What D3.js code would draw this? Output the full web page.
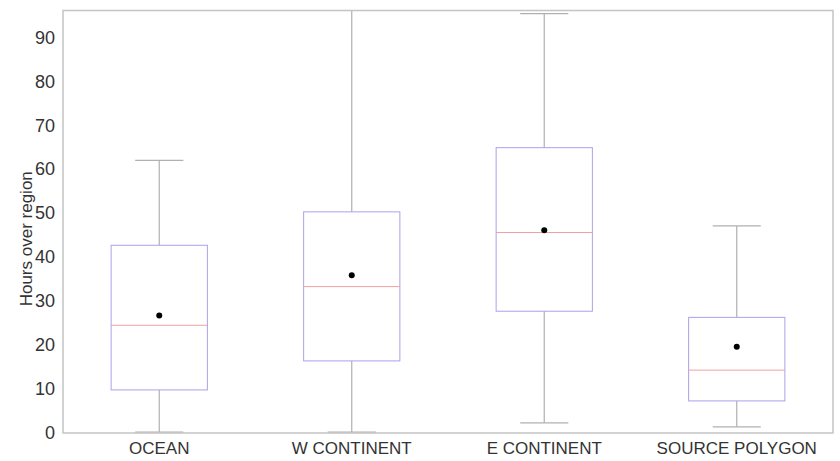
<!DOCTYPE html>
<html>
<head>
<meta charset="utf-8">
<script src="https://cdn.jsdelivr.net/npm/d3@7"></script>
<style>
  body { margin: 0; background: #fff; }
  text { font-family: "Liberation Sans", Arial, sans-serif; fill: #333; }
</style>
</head>
<body>
<div id="chart"></div>
<script>
// Box plot summary per region (hours)
const categories = ['OCEAN', 'W CONTINENT', 'E CONTINENT', 'SOURCE POLYGON'];
const whiskerLow = [0.2, 0.2, 2.3, 1.4];
const q1 = [9.8, 16.4, 27.7, 7.3];
const medians = [24.5, 33.3, 45.6, 14.3];
const q3 = [42.7, 50.3, 64.9, 26.3];
const whiskerHigh = [62.0, 100, 95.4, 47.1];
const means = [26.7, 35.9, 46.1, 19.6];
const yTicks = [0, 10, 20, 30, 40, 50, 60, 70, 80, 90];

const data = categories.map((c, i) => ({
  name: c, lo: whiskerLow[i], q1: q1[i], med: medians[i],
  q3: q3[i], hi: whiskerHigh[i], mean: means[i]
}));

const margin = { top: 10.5, right: 7, bottom: 28, left: 63 };
const width = 840 - margin.left - margin.right;
const height = 461 - margin.top - margin.bottom;

const x = d3.scaleBand().domain(categories).range([0, width]);
const y = d3.scaleLinear().domain([0, 96.1]).range([height, 0]);

const svg = d3.select('#chart')
  .append('svg')
  .attr('width', 840)
  .attr('height', 461)
  .append('g')
  .attr('transform', `translate(${margin.left},${margin.top})`);

svg.append('clipPath').attr('id', 'clip')
  .append('rect').attr('width', width).attr('height', height);

const plot = svg.append('g').attr('clip-path', 'url(#clip)');

const boxW = x.bandwidth() / 2;
const capW = x.bandwidth() / 4;

const g = plot.selectAll('.box')
  .data(data)
  .enter().append('g')
  .attr('class', 'box')
  .attr('transform', d => `translate(${x(d.name) + x.bandwidth() / 2},0)`);

// whiskers
g.append('line')
  .attr('y1', d => y(d.q3)).attr('y2', d => y(d.hi))
  .attr('stroke', '#b0b0b0').attr('stroke-width', 1.2);
g.append('line')
  .attr('y1', d => y(d.q1)).attr('y2', d => y(d.lo))
  .attr('stroke', '#b0b0b0').attr('stroke-width', 1.2);
g.append('line')
  .attr('x1', -capW / 2).attr('x2', capW / 2)
  .attr('y1', d => y(d.hi)).attr('y2', d => y(d.hi))
  .attr('stroke', '#b0b0b0').attr('stroke-width', 1.2);
g.append('line')
  .attr('x1', -capW / 2).attr('x2', capW / 2)
  .attr('y1', d => y(d.lo)).attr('y2', d => y(d.lo))
  .attr('stroke', '#b0b0b0').attr('stroke-width', 1.2);

// boxes
g.append('rect')
  .attr('x', -boxW / 2).attr('width', boxW)
  .attr('y', d => y(d.q3)).attr('height', d => y(d.q1) - y(d.q3))
  .attr('fill', 'none').attr('stroke', '#a9a2ea').attr('stroke-width', 1);

// medians
g.append('line')
  .attr('x1', -boxW / 2).attr('x2', boxW / 2)
  .attr('y1', d => y(d.med)).attr('y2', d => y(d.med))
  .attr('stroke', '#f0a0a0').attr('stroke-width', 1);

// means
g.append('circle')
  .attr('r', 3)
  .attr('cy', d => y(d.mean))
  .attr('fill', '#000');

// frame
svg.append('rect')
  .attr('width', width).attr('height', height)
  .attr('fill', 'none').attr('stroke', '#c4c4c4').attr('stroke-width', 1.5);

// Y axis labels
const yAxis = d3.axisLeft(y).tickValues(yTicks).tickSize(0).tickPadding(8);
svg.append('g').call(yAxis)
  .call(s => s.select('.domain').remove())
  .selectAll('text').style('font-size', '18px').attr('fill', '#333');

// X axis labels
const xAxis = d3.axisBottom(x).tickSize(0).tickPadding(9);
svg.append('g').attr('transform', `translate(0,${height})`).call(xAxis)
  .call(s => s.select('.domain').remove())
  .selectAll('text').style('font-size', '17px').attr('fill', '#333');

svg.append('text')
  .attr('transform', `translate(${-margin.left + 32},${height / 2 + 17}) rotate(-90)`)
  .attr('text-anchor', 'middle')
  .style('font-size', '17px')
  .text('Hours over region');
</script>
</body>
</html>
